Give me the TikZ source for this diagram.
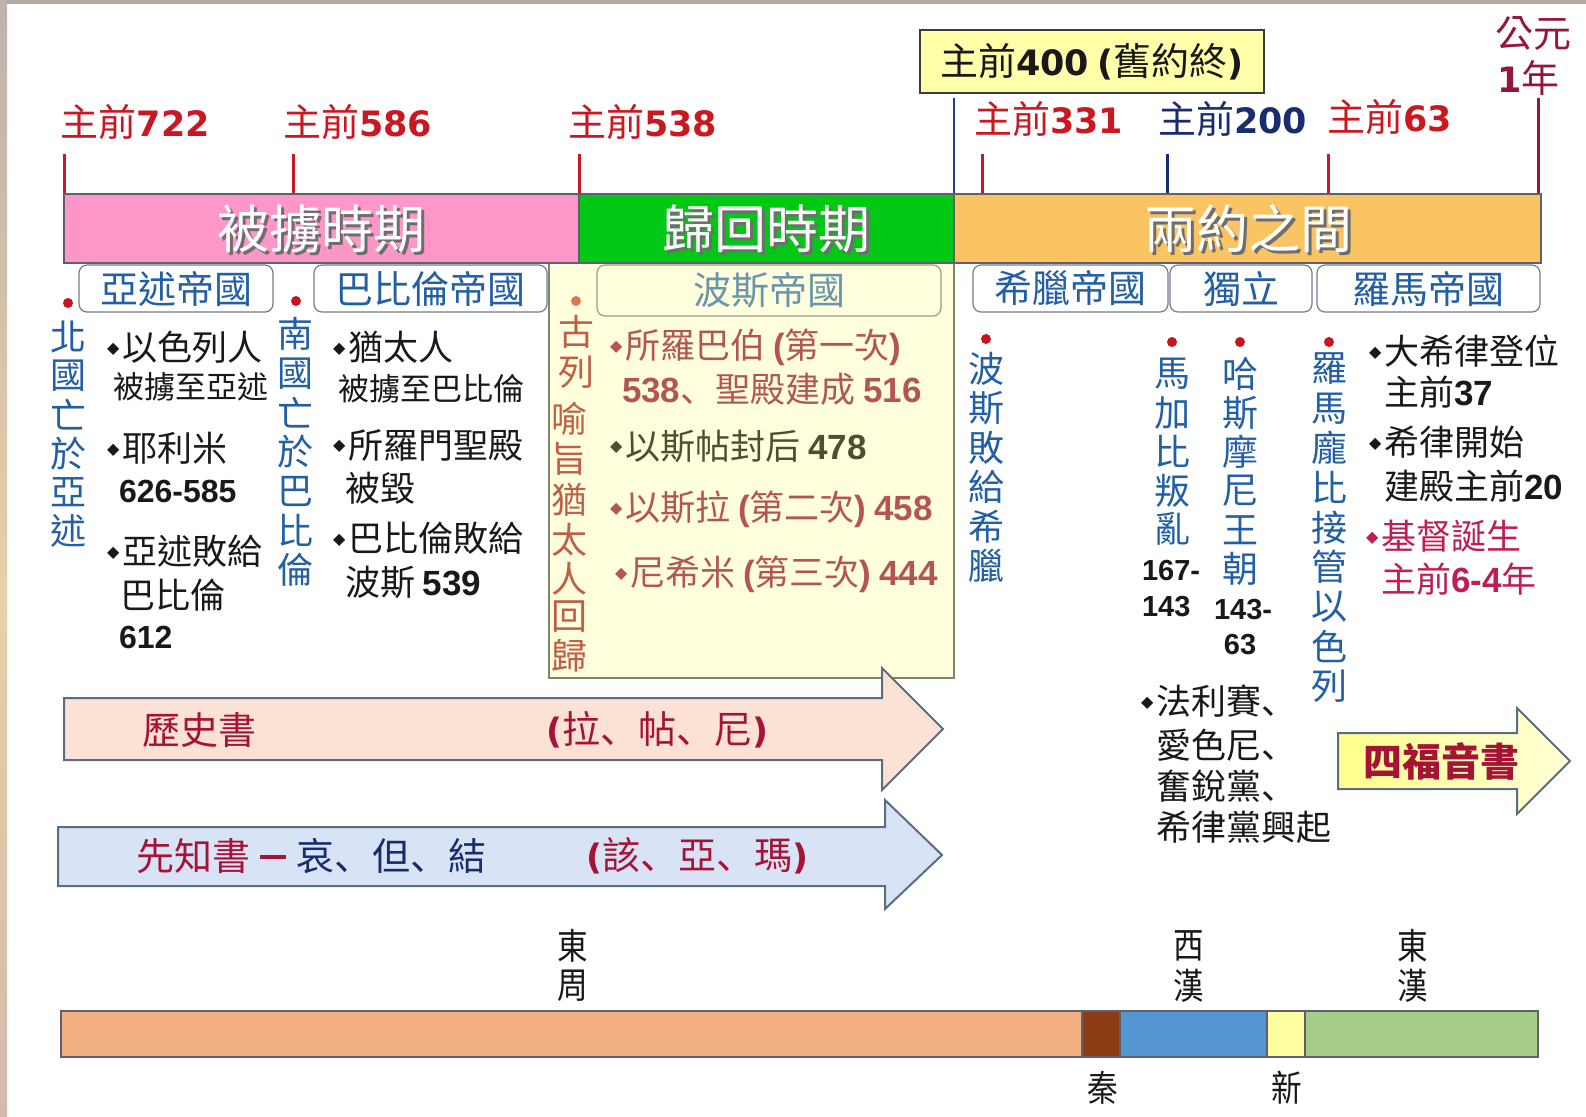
\documentclass[tikz,border=0pt]{standalone}
\usepackage{fontspec}
\setmainfont{Noto Sans CJK TC}
\newfontfamily\jpf{Noto Sans CJK JP}
\newfontfamily\djf{DejaVu Sans}[Scale=0.92]
\newfontfamily\libf{Liberation Sans}
\newfontfamily\symf{DejaVu Sans}
\newcommand\nb[1]{{\libf\bfseries #1}}
\newcommand\nt[1]{{\djf\bfseries #1}}
\newcommand\dun{{\jpf 、}}
\newcommand\bul{\raisebox{3.6pt}{\symf\fontsize{8}{8}\selectfont ◆}\hspace{1.5pt}}
\definecolor{tred}{RGB}{200,25,35}
\definecolor{tnavy}{RGB}{25,45,110}
\definecolor{tmaroon}{RGB}{150,20,65}
\definecolor{tblue}{RGB}{35,95,165}
\definecolor{lineblue}{RGB}{30,60,150}
\definecolor{tblack}{RGB}{25,25,25}
\definecolor{boxline}{RGB}{60,60,60}
\definecolor{prose}{RGB}{180,85,85}
\definecolor{polive}{RGB}{75,80,45}
\definecolor{pcyrus}{RGB}{190,95,70}
\definecolor{crim}{RGB}{165,20,55}
\definecolor{xcrim}{RGB}{190,30,85}
\definecolor{pinkbar}{RGB}{255,150,200}
\definecolor{greenbar}{RGB}{0,200,20}
\definecolor{orangebar}{RGB}{250,196,98}
\definecolor{paleyel}{RGB}{255,255,222}
\definecolor{boxyel}{RGB}{255,255,170}
\definecolor{boxgray}{RGB}{115,125,140}
\definecolor{persbox}{RGB}{150,155,140}
\definecolor{yelborder}{RGB}{125,135,105}
\definecolor{perstxt}{RGB}{105,150,170}
\definecolor{dotred}{RGB}{200,20,30}
\definecolor{dotorange}{RGB}{220,120,80}
\definecolor{arrgray}{RGB}{90,110,130}
\definecolor{peach}{RGB}{251,226,212}
\definecolor{lblue}{RGB}{216,228,246}
\definecolor{yelA}{RGB}{255,255,140}
\definecolor{yelB}{RGB}{255,255,215}
\definecolor{seggray}{RGB}{95,95,110}
\definecolor{shadowgray}{RGB}{110,110,110}
\definecolor{zhou}{RGB}{242,176,130}
\definecolor{qin}{RGB}{140,60,20}
\definecolor{xihan}{RGB}{85,150,210}
\definecolor{xin}{RGB}{255,255,160}
\definecolor{donghan}{RGB}{165,205,135}
\definecolor{frametop}{RGB}{180,168,162}
\definecolor{frameleftA}{RGB}{190,178,172}
\definecolor{frameleftB}{RGB}{232,208,168}
\definecolor{frameleftC}{RGB}{215,185,170}
\begin{document}
\begin{tikzpicture}[x=0.5pt,y=-0.5pt,
  txt/.style={inner sep=0pt, outer sep=0pt},
  lab/.style={txt, anchor=west, font=\fontsize{19}{19}\selectfont},
  barlab/.style={txt, font=\fontsize{26}{26}\selectfont},
  emp/.style={txt, font=\fontsize{19}{19}\selectfont, text=tblue},
  empbox/.style={draw=boxgray, line width=0.6pt, rounded corners=4pt, fill=white},
  vch/.style={txt, font=\fontsize{18}{18}\selectfont},
  bt/.style={txt, anchor=west, font=\fontsize{17.5}{17.5}\selectfont, text=tblack},
  bts/.style={bt, font=\fontsize{15.5}{15.5}\selectfont},
  btn/.style={bt, font=\fontsize{16}{16}\selectfont},
  btm/.style={bt, font=\fontsize{14.5}{14.5}\selectfont},
  arrtxt/.style={txt, font=\fontsize{19}{19}\selectfont},
  dot/.style={circle, fill=dotred, inner sep=0pt, minimum size=5pt},
  tickline/.style={line width=1.5pt},
  bigarrow/.style={draw=arrgray, line width=1pt},
  seg/.style={draw=seggray, line width=0.7pt},
  bot/.style={txt, font=\fontsize{18}{18}\selectfont, text=tblack}]
\useasboundingbox (0,0) rectangle (1586,1116);
\fill[white] (0,0) rectangle (1586,1116);
\fill[frametop] (0,0) rectangle (1586,4);
\shade[top color=frameleftA, bottom color=frameleftB] (0,0) rectangle (7,600);
\shade[top color=frameleftB, bottom color=frameleftC] (0,600) rectangle (7,1116);

% ---------- top labels ----------
\node[lab, text=tred] (l722) at (61,122) {主前\nt{722}};
\node[lab, text=tred] (l586) at (283,122) {主前\nt{586}};
\node[lab, text=tred] (l538) at (568,122) {主前\nt{538}};
\node[lab, text=tred] (l331) at (974,119) {主前\nt{331}};
\node[lab, text=tnavy] (l200) at (1158,119) {主前\nt{200}};
\node[lab, text=tred] (l63) at (1327,117) {主前\nt{63}};
\node[lab, text=tmaroon] (lad1) at (1495,33) {公元};
\node[lab, text=tmaroon] (lad2) at (1497,78) {\nt{1}年};

\node[txt, draw=boxline, fill=boxyel, line width=1pt,
      minimum width=172pt, minimum height=31.5pt, font=\fontsize{19}{19}\selectfont, text=tblack]
      (b400) at (1092,61.5) {主前\nt{400} \nt{(}舊約終\nt{)}};

% ticks
\draw[tickline, tred] (64,154) -- (64,194);
\draw[tickline, tred] (293,154) -- (293,194);
\draw[tickline, tred] (579,154) -- (579,194);
\draw[tickline, tred] (982,154) -- (982,194);
\draw[tickline, tnavy] (1167,154) -- (1167,194);
\draw[tickline, tred] (1328,154) -- (1328,194);
\draw[line width=1.2pt, lineblue] (954,98) -- (954,194);
\draw[tickline, tmaroon] (1538,98) -- (1538,194);

% ---------- yellow persian box ----------
\draw[fill=paleyel, draw=yelborder, line width=0.8pt] (549,263) rectangle (954,678);

% ---------- main bar ----------
\fill[pinkbar] (64,194) rectangle (579,263);
\fill[greenbar] (579,194) rectangle (954,263);
\fill[orangebar] (954,194) rectangle (1541,263);
\draw[seggray, line width=0.8pt] (64,194) rectangle (1541,263);
\draw[seggray, line width=0.6pt] (579,194) -- (579,263) (954,194) -- (954,263);
\node[barlab, text=shadowgray] at (324,232) {被擄時期};
\node[barlab, text=white] (bar1) at (321,229) {被擄時期};
\node[barlab, text=shadowgray] at (769,232) {歸回時期};
\node[barlab, text=white] (bar2) at (766,229) {歸回時期};
\node[barlab, text=shadowgray] at (1251,232) {兩約之間};
\node[barlab, text=white] (bar3) at (1248,229) {兩約之間};

% ---------- empire boxes ----------
\draw[empbox] (79,265) rectangle (273,312);
\node[emp] (e1) at (176,288.5) {亞述帝國};
\draw[empbox] (314,265) rectangle (547,312);
\node[emp] (e2) at (430,288.5) {巴比倫帝國};
\draw[empbox, fill=paleyel, draw=persbox] (597,265) rectangle (941,316);
\node[emp, text=perstxt] (e3) at (769,290) {波斯帝國};
\draw[empbox] (973,265) rectangle (1168,312);
\node[emp] (e4) at (1070,288.5) {希臘帝國};
\draw[empbox] (1170,265) rectangle (1312,312);
\node[emp] (e5) at (1241,288.5) {獨立};
\draw[empbox] (1317,265) rectangle (1540,312);
\node[emp] (e6) at (1428,288.5) {羅馬帝國};

% ---------- vertical labels ----------
\node[dot] (d1) at (68,303) {};
\foreach \c [count=\i] in {北,國,亡,於,亞,述}
  \node[vch, text=tblue] (v1-\i) at (68,{337+(\i-1)*38.8}) {\c};
\node[dot] (d2) at (296,301) {};
\foreach \c [count=\i] in {南,國,亡,於,巴,比,倫}
  \node[vch, text=tblue] (v2-\i) at (295,{334+(\i-1)*39.3}) {\c};
\node[dot, fill=dotorange] (d3) at (576,301) {};
\node[vch, text=pcyrus] (v3-1) at (576,332) {古};
\node[vch, text=pcyrus] (v3-2) at (576,372) {列};
\foreach \c/\yy [count=\i] in {喻/419,旨/459,猶/500,太/540,人/579,回/617,歸/656}
  \node[vch, text=pcyrus] (v3b-\i) at (569,\yy) {\c};
\node[dot] (d4) at (986,339) {};
\foreach \c [count=\i] in {波,斯,敗,給,希,臘}
  \node[vch, text=tblue] (v4-\i) at (986,{369+(\i-1)*39.4}) {\c};
\node[dot] (d5) at (1172,342) {};
\foreach \c [count=\i] in {馬,加,比,叛,亂}
  \node[vch, text=tblue] (v5-\i) at (1172,{374+(\i-1)*38.8}) {\c};
\node[dot] (d6) at (1240,342) {};
\foreach \c [count=\i] in {哈,斯,摩,尼,王,朝}
  \node[vch, text=tblue] (v6-\i) at (1240,{374+(\i-1)*39}) {\c};
\node[dot] (d7) at (1329,342) {};
\foreach \c [count=\i] in {羅,馬,龐,比,接,管,以,色,列}
  \node[vch, text=tblue] (v7-\i) at (1329,{369+(\i-1)*39.6}) {\c};
\node[btm] (n167) at (1142,571) {\nb{167-}};
\node[btm] (n143a) at (1142,607) {\nb{143}};
\node[btm] (n143b) at (1214,610) {\nb{143-}};
\node[btm, anchor=center] (n63) at (1240,645) {\nb{63}};

% ---------- bullet columns ----------
\node[bt] (c1a) at (107,347) {\bul 以色列人};
\node[bts] (c1b) at (113,387) {被擄至亞述};
\node[bt] (c1c) at (107,448) {\bul 耶利米};
\node[btn] (c1d) at (119,491) {\nb{626-585}};
\node[bt] (c1e) at (107,551) {\bul 亞述敗給};
\node[bt] (c1f) at (120,595) {巴比倫};
\node[btn] (c1g) at (119,637) {\nb{612}};

\node[bt] (c2a) at (333,347) {\bul 猶太人};
\node[bts] (c2b) at (338,389) {被擄至巴比倫};
\node[bt] (c2c) at (333,445) {\bul 所羅門聖殿};
\node[bt] (c2d) at (345,488) {被毀};
\node[bt] (c2e) at (333,538) {\bul 巴比倫敗給};
\node[bt] (c2f) at (345,582) {波斯 \nb{539}};

\node[bt, text=prose] (p1) at (610,347) {\bul 所羅巴伯 \nb{(}第一次\nb{)}};
\node[bt, text=prose] (p2) at (622,389) {\nb{538}\dun 聖殿建成 \nb{516}};
\node[bt, text=polive] (p3) at (610,446) {\bul 以斯帖封后 \nb{478}};
\node[bt, text=prose] (p4) at (610,509) {\bul 以斯拉 \nb{(}第二次\nb{)} \nb{458}};
\node[bt, text=prose] (p5) at (615,574) {\bul 尼希米 \nb{(}第三次\nb{)} \nb{444}};

\node[bt] (r1) at (1369,351) {\bul 大希律登位};
\node[bt] (r2) at (1384,392) {主前\nb{37}};
\node[bt] (r3) at (1369,442) {\bul 希律開始};
\node[bt] (r4) at (1384,486) {建殿主前\nb{20}};
\node[bt, text=xcrim] (r5) at (1366,536) {\bul 基督誕生};
\node[bt, text=xcrim] (r6) at (1381,579) {主前\nb{6-4}年};

\node[bt] (f1) at (1141,701) {\bul 法利賽\dun};
\node[bt] (f2) at (1156,745) {愛色尼\dun};
\node[bt] (f3) at (1156,786) {奮銳黨\dun};
\node[bt] (f4) at (1156,827) {希律黨興起};

% ---------- big arrows ----------
\draw[bigarrow, fill=peach] (64,698) -- (882,698) -- (882,668) -- (943,729) -- (882,790) -- (882,760) -- (64,760) -- cycle;
\node[arrtxt, text=crim] (a1) at (199,730) {歷史書};
\node[arrtxt, text=crim] (a1b) at (657,730) {\nt{(}拉\dun 帖\dun 尼\nt{)}};

\draw[bigarrow, fill=lblue] (58,827) -- (885,827) -- (885,800) -- (942,855) -- (885,909) -- (885,886) -- (58,886) -- cycle;
\node[arrtxt, anchor=west, text=crim] (a2) at (136,856) {先知書\hspace{5pt}\rule[0.3em]{13pt}{2pt}\hspace{5pt}{\color{tnavy}哀\dun 但\dun 結}};
\node[arrtxt, text=crim] (a2b) at (697,856) {\nt{(}該\dun 亞\dun 瑪\nt{)}};

\draw[bigarrow, left color=yelA, right color=yelB]
  (1338,733) -- (1517,733) -- (1517,708) -- (1570,761) -- (1517,814) -- (1517,789) -- (1338,789) -- cycle;
\node[arrtxt, text=crim, font=\fontsize{19.5}{19.5}\selectfont\bfseries] (a3) at (1441,761) {四福音書};

% ---------- dynasty bar ----------
\fill[zhou] (61,1011) rectangle (1082,1057);
\fill[qin] (1082,1011) rectangle (1120,1057);
\fill[xihan] (1120,1011) rectangle (1267,1057);
\fill[xin] (1267,1011) rectangle (1305,1057);
\fill[donghan] (1305,1011) rectangle (1538,1057);
\draw[seg] (61,1011) rectangle (1538,1057);
\draw[seg] (1082,1011) -- (1082,1057) (1120,1011) -- (1120,1057) (1267,1011) -- (1267,1057) (1305,1011) -- (1305,1057);
\node[bot] (z1) at (573,946) {\scalebox{0.85}[1]{東}};
\node[bot] (z2) at (573,986) {\scalebox{0.85}[1]{周}};
\node[bot] (x1) at (1189,946) {\scalebox{0.85}[1]{西}};
\node[bot] (x2) at (1189,986) {\scalebox{0.85}[1]{漢}};
\node[bot] (h1) at (1413,946) {\scalebox{0.85}[1]{東}};
\node[bot] (h2) at (1413,986) {\scalebox{0.85}[1]{漢}};
\node[bot] (q1) at (1103,1088) {\scalebox{0.85}[1]{秦}};
\node[bot] (s1) at (1287,1088) {\scalebox{0.85}[1]{新}};
\end{tikzpicture}
\end{document}
